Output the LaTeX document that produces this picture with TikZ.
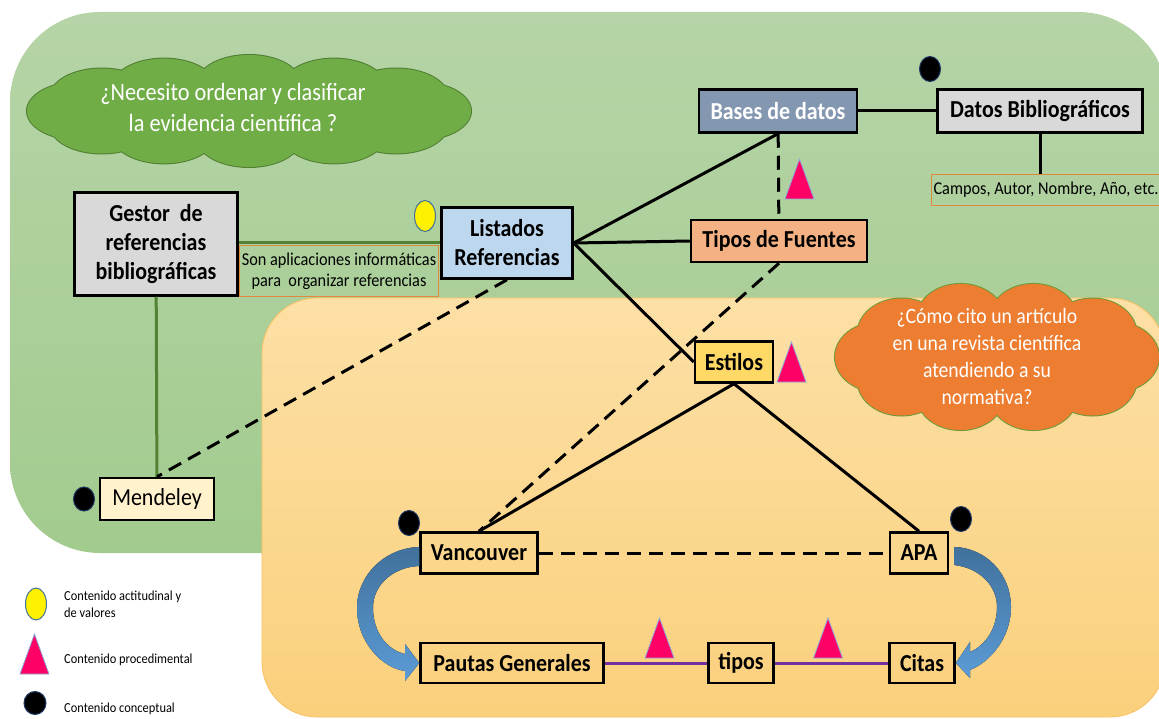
\documentclass[tikz,border=0pt]{standalone}
\usepackage{fontspec}
\setmainfont{Carlito}[FakeStretch=0.9]
\usepackage{xcolor}
\usetikzlibrary{positioning, shapes.geometric, calc}

\definecolor{bgGreenTop}{RGB}{182,212,167}
\definecolor{bgGreenBot}{RGB}{162,203,142}
\definecolor{bgOrangeTop}{RGB}{253,224,166}
\definecolor{bgOrangeBot}{RGB}{250,208,124}
\definecolor{greyBox}{HTML}{D9D9D9}
\definecolor{slateBox}{HTML}{8497B0}
\definecolor{skyBox}{HTML}{BDD7EE}
\definecolor{salmonBox}{HTML}{F4B183}
\definecolor{goldBox}{HTML}{FFD966}
\definecolor{creamBox}{HTML}{FFF2CC}
\definecolor{noteOrange}{HTML}{E0883E}
\definecolor{lineGreen}{HTML}{548235}
\definecolor{linePurple}{HTML}{7030A0}
\definecolor{cloudGreen}{HTML}{70AD47}
\definecolor{cloudGreenEdge}{HTML}{507E32}
\definecolor{cloudOrange}{HTML}{ED7D31}
\definecolor{cloudOrangeEdge}{HTML}{6E9A3A}
\definecolor{triPink}{HTML}{FF0066}
\definecolor{triEdge}{HTML}{8FAADC}
\definecolor{dotBlue}{HTML}{1F3864}
\definecolor{yelBlue}{HTML}{41719C}
\definecolor{arrowDark}{HTML}{41719C}
\definecolor{arrowLight}{HTML}{5B9BD5}

\begin{document}
\begin{tikzpicture}[
    x=1pt, y=-1pt,
    box/.style={draw=black, line width=2.5pt, align=center, inner sep=2pt, font=\fontsize{24.4}{29}\selectfont\bfseries},
    note/.style={draw=noteOrange, line width=1pt, align=center, inner sep=2pt, font=\fontsize{18.1}{21}\selectfont},
    link/.style={line width=3pt},
    dlink/.style={line width=3pt, dash pattern=on 14pt off 8pt},
    glink/.style={draw=lineGreen, line width=3pt},
    plink/.style={draw=linePurple, line width=3pt},
    dot/.style={ellipse, fill=black, draw=dotBlue, line width=1pt, minimum width=21pt, minimum height=25pt, inner sep=0pt},
    yel/.style={ellipse, fill=yellow, draw=yelBlue, line width=1pt, minimum width=21pt, minimum height=31pt, inner sep=0pt},
    legend/.style={anchor=west, align=left, inner sep=0pt, font=\fontsize{13.8}{17}\selectfont},
    pufftext/.style={text=white, align=center, inner sep=0pt},
    bluearrow/.style={top color=arrowDark, bottom color=arrowLight},
    tri/.pic={\filldraw[fill=triPink, draw=triEdge, line width=0.8pt] (-14.5,20) -- (14.5,20) -- (0,-20) -- cycle;}
]
\useasboundingbox (0,0) rectangle (1159,719);

% fondos
\begin{scope}
\clip (0,0) rectangle (1159,719);
\shade[top color=bgGreenTop, bottom color=bgGreenBot, rounded corners=90pt] (10,12) rectangle (1168,553);
\shade[top color=bgOrangeTop, bottom color=bgOrangeBot, rounded corners=55pt] (262,298) rectangle (1165,717);
\draw[draw=bgOrangeBot!80!orange, line width=0.8pt, rounded corners=55pt] (262,298) rectangle (1165,717);

% nubes
\foreach \t in {0,30,...,330}
  \draw[cloudGreenEdge, line width=2pt] ($(249,111)+(\t:170 and 27)$) ellipse (52 and 29);
\fill[cloudGreen] (249,111) ellipse (170 and 27);
\foreach \t in {0,30,...,330}
  \fill[cloudGreen] ($(249,111)+(\t:170 and 27)$) ellipse (52 and 29);
\foreach \t in {0,36,...,324}
  \draw[cloudOrangeEdge, line width=2pt] ($(997,357)+(\t:118 and 40)$) ellipse (44 and 35);
\fill[cloudOrange] (997,357) ellipse (118 and 40);
\foreach \t in {0,36,...,324}
  \fill[cloudOrange] ($(997,357)+(\t:118 and 40)$) ellipse (44 and 35);
\end{scope}
\node[pufftext, font=\fontsize{24.8}{31}\selectfont] (qOrden) at (233,107) {¿Necesito ordenar y clasificar\\la evidencia científica ?};
\node[pufftext, font=\fontsize{21.9}{27}\selectfont] (qCita) at (987,356) {¿Cómo cito un artículo\\en una revista científica\\atendiendo a su\\normativa?};

% nodos
\node[box, fill=slateBox, text=white, minimum width=158pt, minimum height=43pt] (bases) at (778,111) {Bases de datos};
\node[box, fill=greyBox, minimum width=205pt, minimum height=43pt] (datos) at (1040,111) {Datos Bibliográficos};
\node[note, minimum width=222pt, minimum height=31pt] (campos) at (1046,190) {Campos, Autor, Nombre, Año, etc.};
\node[box, fill=salmonBox, minimum width=176pt, minimum height=42pt] (tipos) at (779,241) {Tipos de Fuentes};
\node[box, fill=skyBox, minimum width=131pt, minimum height=71pt] (listados) at (507,243) {Listados\\Referencias};
\node[box, fill=greyBox, minimum width=163pt, minimum height=103pt] (gestor) at (156,244) {Gestor~ de\\referencias\\bibliográficas};
\node[note, minimum width=198pt, minimum height=51pt] (apps) at (339,271) {Son aplicaciones informáticas\\para~ organizar referencias};
\node[box, fill=creamBox, font=\fontsize{24.4}{29}\selectfont, minimum width=114pt, minimum height=42pt] (mendeley) at (157,499) {Mendeley};
\node[box, fill=goldBox, minimum width=78pt, minimum height=41pt] (estilos) at (734,362) {Estilos};
\node[box, minimum width=117pt, minimum height=41pt] (vancouver) at (479,553) {Vancouver};
\node[box, minimum width=58pt, minimum height=41pt] (apa) at (919,553) {APA};
\node[box, minimum width=183pt, minimum height=40pt] (pautas) at (512,663) {Pautas Generales};
\node[box, minimum width=65pt, minimum height=40pt] (tiposCita) at (741,663) {tipos};
\node[box, minimum width=65pt, minimum height=40pt] (citas) at (922,663) {Citas};

% marcas
\node[dot] (dotDatos) at (930,69) {};
\node[dot, minimum height=24pt] (dotMendeley) at (84,499) {};
\node[dot] (dotVancouver) at (409,523) {};
\node[dot] (dotApa) at (961,519) {};
\node[yel] (yelListados) at (425,216) {};
\pic (triBases) at (799.5,179) {tri};
\pic (triEstilos) at (791.5,362) {tri};
\pic (triPautas) at (659.5,638) {tri};
\pic (triCitas) at (828,638) {tri};

% conexiones
\draw[link] (bases) -- (datos);
\draw[link] (datos.south) -- (datos.south |- campos.north);
\draw[dlink] (bases) -- (tipos);
\draw[link] (listados.east) -- (bases.south);
\draw[link] (listados.east) -- (tipos.west);
\draw[link] (listados.east) -- (estilos.west);
\draw[glink] (gestor.east |- listados.west) -- (listados.west);
\draw[glink] (gestor) -- (mendeley);
\draw[dlink] (listados.south) -- (mendeley.north);
\draw[dlink] (tipos.south) -- (vancouver.north);
\draw[link] (estilos.south) -- (vancouver.north);
\draw[link] (estilos.south) -- (apa.north);
\draw[dlink] (vancouver) -- (apa);
\draw[plink] (pautas) -- (tiposCita);
\draw[plink] (tiposCita) -- (citas);

% flechas curvas
\fill[bluearrow] ([yshift=6pt]vancouver.west) .. controls (385,548) and (357,575) .. (357,608)
  .. controls (357,642) and (382,668) .. (405,671) -- (405,681) -- (pautas.west) -- (405,644) -- (405,654)
  .. controls (387,650) and (373,632) .. (373,608) .. controls (373,584) and (394,567) .. ([yshift=-13pt]vancouver.west) -- cycle;
\fill[bluearrow] ([xshift=5pt, yshift=6pt]apa.east) .. controls (987,548) and (1011,575) .. (1011,607)
  .. controls (1011,638) and (990,662) .. (970,670) -- (970,678) -- (citas.east) -- (970,642) -- (970,652)
  .. controls (986,645) and (997,628) .. (997,607) .. controls (997,586) and (980,568) .. ([xshift=5pt, yshift=-12pt]apa.east) -- cycle;

% leyenda
\node[yel, minimum height=32pt] (yelLeyenda) at (36,604) {};
\pic (triLeyenda) at (34.5,654) {tri};
\node[dot, minimum width=22pt, minimum height=23pt] (dotLeyenda) at (35,703) {};
\node[legend] (legActitud) at (64,604) {Contenido actitudinal y\\de valores};
\node[legend] (legProced) at (64,660) {Contenido procedimental};
\node[legend] (legConcepto) at (64,709) {Contenido conceptual};
\end{tikzpicture}
\end{document}
